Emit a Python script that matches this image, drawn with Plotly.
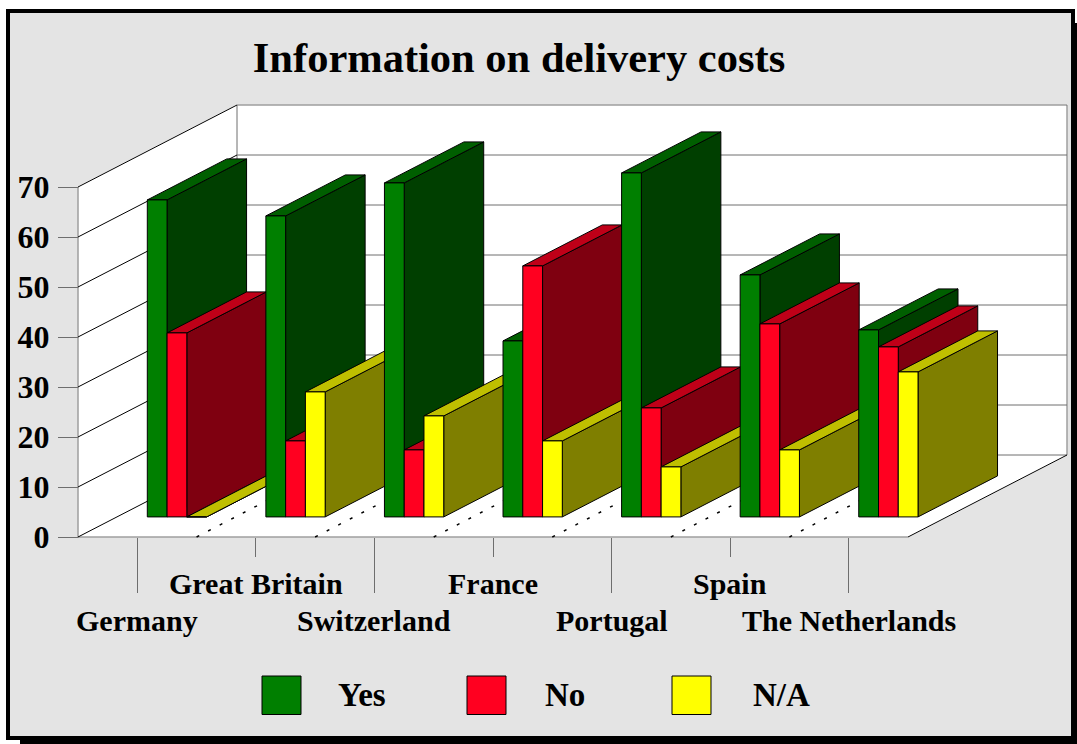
import plotly.graph_objects as go

# ---- data ----
categories = ["Germany", "Great Britain", "Switzerland", "France", "Portugal", "Spain", "The Netherlands"]
yes_values = [63.4, 60.2, 66.8, 35.2, 68.8, 48.4, 37.4]
no_values = [36.8, 15.2, 13.4, 50.2, 21.8, 38.6, 34.0]
na_values = [0.0, 25.0, 20.2, 15.2, 10.0, 13.4, 29.0]
y_ticks = [0, 10, 20, 30, 40, 50, 60, 70]
legend_names = ["Yes", "No", "N/A"]
title_text = "Information on delivery costs"

# ---- styles ----
W, H = 1077, 744
PX_CAT = 830 / 7
PX_UNIT = 5.0
X0_PX, Y0_PX = 78, 537
DEPTH_X = 159 / PX_CAT
DEPTH_Y = 82 / PX_UNIT
NEAR, FAR = 0.245, 0.745
BAR_W = 0.5 / 3
SERIES = [
    (yes_values, "#007F00", "#005F00", "#003F00"),
    (no_values, "#FF0020", "#BF0018", "#7F0010"),
    (na_values, "#FFFF00", "#BFBF00", "#7F7F00"),
]
FONT = "Liberation Serif"
GREY = "#6E6E6E"


def px(xp, yp):
    return xp / W, 1 - yp / H


def proj(c, v, d):
    return c + d * DEPTH_X, v + d * DEPTH_Y


def poly(points, fill, line="#000000", width=1, name=None):
    xs, ys = zip(*points)
    return go.Scatter(x=list(xs) + [xs[0]], y=list(ys) + [ys[0]], mode="lines", fill="toself",
                      fillcolor=fill, line=dict(color=line, width=width), hoverinfo="skip",
                      showlegend=False, name=name)


def segs(pairs, color, width=1, dash="solid"):
    xs, ys = [], []
    for a, b in pairs:
        xs += [a[0], b[0], None]
        ys += [a[1], b[1], None]
    return go.Scatter(x=xs, y=ys, mode="lines", line=dict(color=color, width=width, dash=dash),
                      hoverinfo="skip", showlegend=False)


L, R = -0.5, len(categories) - 0.5
TOP = y_ticks[-1]
fig = go.Figure()

# walls and floor
fig.add_trace(poly([proj(L, 0, 0), proj(L, TOP, 0), proj(L, TOP, 1), proj(L, 0, 1)], "#FFFFFF", "#FFFFFF"))
fig.add_trace(poly([proj(L, 0, 1), proj(L, TOP, 1), proj(R, TOP, 1), proj(R, 0, 1)], "#FFFFFF", "#FFFFFF"))
fig.add_trace(poly([proj(L, 0, 0), proj(R, 0, 0), proj(R, 0, 1), proj(L, 0, 1)], "#FFFFFF", "#FFFFFF"))
fig.add_trace(segs([(proj(L, v, 1), proj(R, v, 1)) for v in y_ticks], GREY))
fig.add_trace(segs([(proj(L, 0, 1), proj(L, TOP, 1)), (proj(R, 0, 1), proj(R, TOP, 1)),
                    (proj(L, 0, 0), proj(L, TOP, 0)), (proj(L, 0, 0), proj(R, 0, 0))], GREY))
fig.add_trace(segs([(proj(L, v, 0), proj(L, v, 1)) for v in y_ticks], "#000000"))
fig.add_trace(segs([(proj(R, 0, 0), proj(R, 0, 1))], "#000000"))
fig.add_trace(segs([(proj(L + i, 0, 0), proj(L + i, 0, 1)) for i in range(1, len(categories))],
                   "#000000", 1.5, "3px,10px"))

# bars, back to front in drawing order
for i, cat in enumerate(categories):
    for s, (vals, front, top, side) in enumerate(SERIES):
        v = vals[i]
        x0 = i - 0.244 + s * BAR_W
        x1 = x0 + BAR_W
        fig.add_trace(poly([proj(x1, 0, NEAR), proj(x1, v, NEAR), proj(x1, v, FAR), proj(x1, 0, FAR)], side,
                           name=f"{cat} {legend_names[s]} side"))
        fig.add_trace(poly([proj(x0, v, NEAR), proj(x1, v, NEAR), proj(x1, v, FAR), proj(x0, v, FAR)], top,
                           name=f"{cat} {legend_names[s]} top"))
        fig.add_trace(poly([proj(x0, 0, NEAR), proj(x1, 0, NEAR), proj(x1, v, NEAR), proj(x0, v, NEAR)], front,
                           name=f"{cat} {legend_names[s]}"))

# panel
shapes = []
for (a, b, c, d), col in [((20, 23, 1079, 746), "#000000"), ((6, 9, 1075, 740), "#000000"),
                          ((10, 13, 1071, 736), "#E4E4E4")]:
    xa, ya = px(a, b)
    xb, yb = px(c, d)
    shapes.append(dict(type="rect", xref="paper", yref="paper", x0=xa, y0=ya, x1=xb, y1=yb,
                       fillcolor=col, line_width=0, layer="below"))

# legend
annotations = []
for (name, spec, sw_x, txt_x) in zip(legend_names, SERIES, [262, 467, 672], [362, 565, 781]):
    xa, ya = px(sw_x, 676)
    xb, yb = px(sw_x + 39, 714.5)
    shapes.append(dict(type="rect", xref="paper", yref="paper", x0=xa, y0=ya, x1=xb, y1=yb,
                       fillcolor=spec[1], line=dict(color="#000000", width=1), layer="above"))
    tx, ty = px(txt_x, 695)
    annotations.append(dict(xref="paper", yref="paper", x=tx, y=ty, text=f"<b>{name}</b>", showarrow=False,
                            xanchor="center", yanchor="middle", font=dict(family=FONT, size=33, color="#000000")))

# category labels in two rows
for i, cat in enumerate(categories):
    annotations.append(dict(xref="x", yref="y", x=i, y=-16.7 if i % 2 == 0 else -9.3, text=f"<b>{cat}</b>",
                            showarrow=False, xanchor="center", yanchor="middle",
                            font=dict(family=FONT, size=30, color="#000000")))

fig.update_layout(
    width=W, height=H, margin=dict(l=0, r=0, t=0, b=0, pad=0, autoexpand=False),
    paper_bgcolor="#FFFFFF", plot_bgcolor="rgba(0,0,0,0)", showlegend=False,
    shapes=shapes, annotations=annotations,
    title=dict(text=f"<b>{title_text}</b>", x=519 / W, y=1 - 57 / H, xanchor="center", yanchor="middle",
               font=dict(family=FONT, size=42.5, color="#000000")),
    xaxis=dict(range=[L - X0_PX / PX_CAT, L + (W - X0_PX) / PX_CAT], anchor="free", position=1 - Y0_PX / H,
               showgrid=False, zeroline=False, showline=False, showticklabels=False,
               tickmode="array", tickvals=list(range(0, len(categories), 2)),
               ticks="outside", ticklen=55, tickwidth=1, tickcolor=GREY,
               minor=dict(tickmode="array", tickvals=list(range(1, len(categories), 2)), ticks="outside",
                          ticklen=19, tickwidth=1, tickcolor=GREY, showgrid=False)),
    yaxis=dict(range=[(Y0_PX - H) / PX_UNIT, Y0_PX / PX_UNIT], anchor="free", position=X0_PX / W,
               showgrid=False, zeroline=False, showline=False,
               tickmode="array", tickvals=y_ticks, ticktext=[f"<b>{t}</b>" for t in y_ticks],
               ticks="outside", ticklen=20, tickwidth=1, tickcolor=GREY, ticklabelstandoff=2,
               tickfont=dict(family=FONT, size=32, color="#000000")),
)

fig.write_html("out.html", config={"displayModeBar": False},
               post_script="document.body.style.margin='0';document.body.style.overflow='hidden';")
